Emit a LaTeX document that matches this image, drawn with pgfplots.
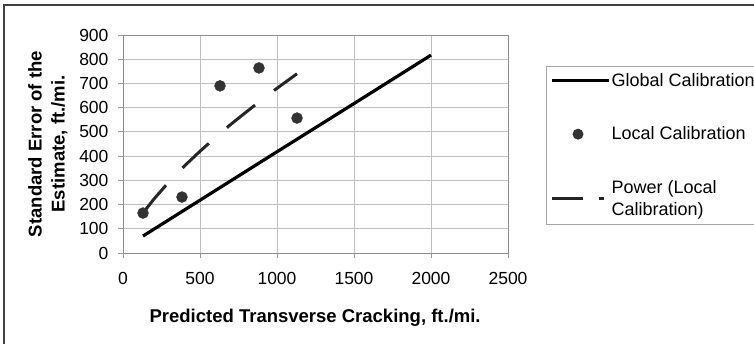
\documentclass[border=0pt]{standalone}
\usepackage{fontspec}
\setmainfont{Liberation Sans}
\usepackage{pgfplots}
\pgfplotsset{compat=1.18}
\begin{document}
\begin{tikzpicture}[x=1pt,y=1pt]
\useasboundingbox (0,0) rectangle (754,343);
\draw[draw=black!75, line width=1.6pt] (4,-5) -- (4,338) -- (760,338);
\begin{axis}[
  at={(123pt,90pt)}, anchor=origin,
  scale only axis, width=385pt, height=218pt,
  xmin=0, xmax=2500, ymin=0, ymax=900,
  xtick={0,500,...,2500}, ytick={0,100,...,900},
  grid=major, major grid style={draw=black!25, line width=0.8pt},
  axis line style={draw=black!45, line width=1pt},
  tick align=outside, major tick length=5pt, tick style={draw=black!40, line width=0.8pt},
  xtick pos=bottom, ytick pos=left,
  tick label style={font=\fontsize{17.5}{20}\selectfont},
  xticklabel style={yshift=-11pt},
  yticklabel style={xshift=-6pt},
  /pgf/number format/assume math mode=true,
  /pgf/number format/1000 sep={},
  xlabel={Predicted Transverse Cracking, ft./mi.},
  ylabel={Standard Error of the\\Estimate, ft./mi.},
  xlabel style={font=\bfseries\fontsize{18.5}{20}\selectfont, at={(axis description cs:0.499,-0.24)}, anchor=north},
  ylabel style={font=\bfseries\fontsize{18.5}{23}\selectfont, align=center, at={(axis description cs:-0.135,0.5)}, anchor=south},
  legend style={at={(axis description cs:1.0987,0.858)}, anchor=north west,
    draw=black!35, line width=0.8pt, font=\fontsize{18}{22}\selectfont,
    inner xsep=4pt, inner ysep=6pt, row sep=37pt,
    nodes={inner sep=1pt}, cells={align=left}},
  legend cell align=left,
]
\addplot[black, line width=3.2pt, no marks,
  legend image code/.code={\draw[black, line width=3.2pt, solid] (0pt,0pt) -- (57pt,0pt);}]
  coordinates {(130,70) (500,218) (1000,418) (1500,617) (2000,817)};
\addlegendentry{Global Calibration}
\addplot[only marks, mark=*, mark size=5.5pt, color=black!80,
  legend image code/.code={\path[draw=none, fill=none] (0pt,0pt) -- (57pt,0pt);\fill[black!80, draw=none] (26pt,0pt) circle (5.5pt);}]
  coordinates {(130,165) (383,231) (630,690) (883,764) (1130,557)};
\addlegendentry{Local Calibration}
\addplot[black!85, line width=3pt, dash pattern=on 36pt off 24pt, no marks,
  legend image code/.code={\path[draw=none, fill=none] (0pt,0pt) -- (57pt,0pt);\draw[black!85, line width=3pt, dash pattern=on 31pt off 16pt] (0pt,0pt) -- (52pt,0pt);}]
  coordinates {(130,165) (200,222) (300,295) (400,360) (500,420) (600,477) (700,531) (800,582) (900,632) (1000,680) (1130,740)};
\addlegendentry{Power (Local\\Calibration)}
\end{axis}
\end{tikzpicture}
\end{document}
